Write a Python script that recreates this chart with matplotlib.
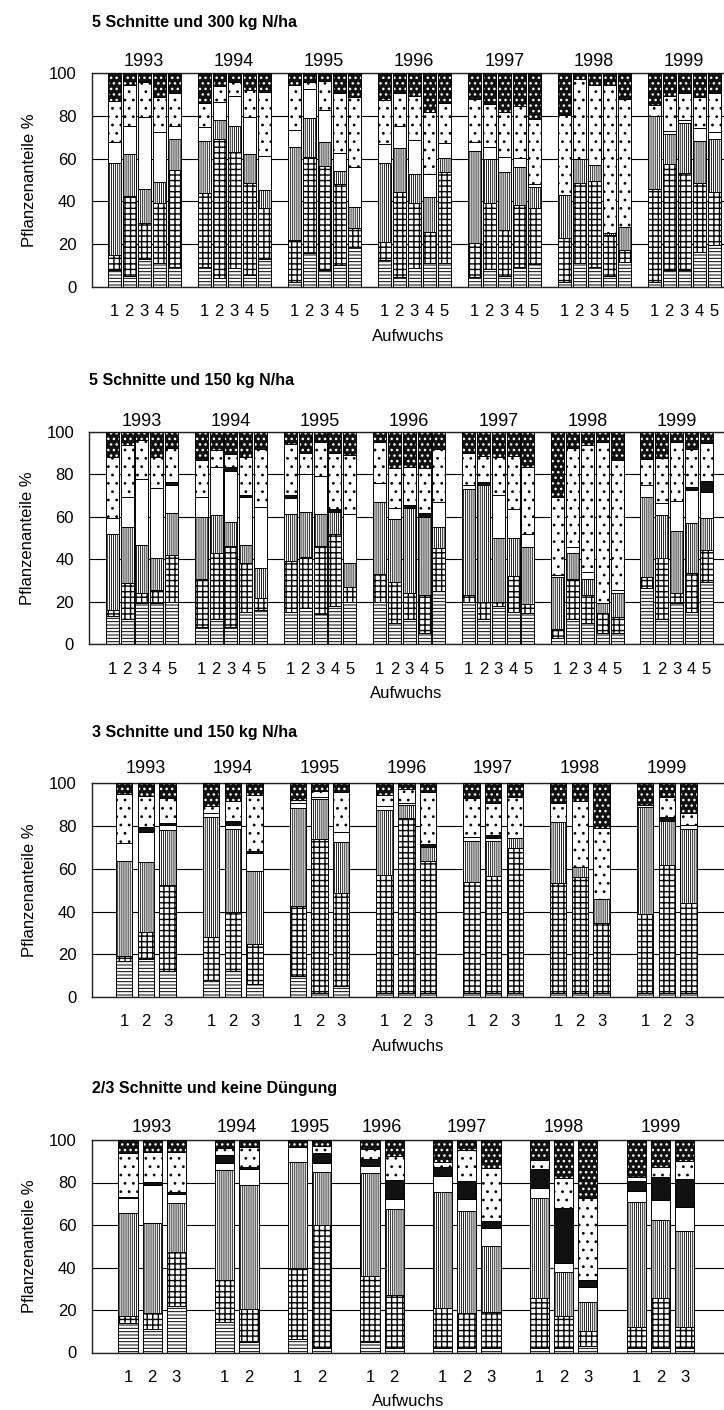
import numpy as np
import matplotlib
matplotlib.use("Agg")
import matplotlib.pyplot as plt

plt.rcParams['font.family'] = ['Liberation Sans', 'DejaVu Sans']
plt.rcParams['hatch.linewidth'] = 0.7

years = ["1993", "1994", "1995", "1996", "1997", "1998", "1999"]
ylabel = "Pflanzenanteile %"
xlabel = "Aufwuchs"

# ---------------- Panel 1: 5 Schnitte und 300 kg N/ha ----------------
p1_title = "5 Schnitte und 300 kg N/ha"
p1_cuts = [5, 5, 5, 5, 5, 5, 5]
p1_horiz = [8, 5, 13, 11, 9.4,   9, 4, 8.6, 5.5, 13,   2, 15.6, 7.8, 10.2, 18.7,
            12.5, 4.7, 8.6, 11.3, 11,   4.7, 8.1, 5, 9.4, 10.6,   2.3, 11, 9.4, 5, 11.7,
            2, 8, 7.8, 16.4, 19.5]
p1_grid = [7, 37.5, 16.7, 28, 45.3,   34.8, 65, 54.7, 43, 23.7,   20, 45, 48.8, 37.9, 9,
           8.6, 39.8, 30.8, 14.5, 42.9,   15.6, 31, 21.6, 28.9, 26.1,   20.4, 37.8, 40.3, 19.2, 5.5,
           43.6, 49.5, 45.6, 32, 24.7]
p1_vert = [43, 19.5, 16.3, 10, 14.3,   24.5, 9.2, 12, 13.6, 8.6,   43.4, 18.3, 11.4, 6.3, 9.8,
           36.7, 20.3, 13.3, 16.4, 6.3,   43.5, 20.7, 27.3, 18, 10.2,   20.3, 10.9, 7.3, 1.1, 10.6,
           34.4, 14.1, 23.2, 19.9, 24.8]
p1_white = [10, 13.3, 33.7, 23.7, 6.3,   6.4, 8.4, 14.1, 17.2, 16,   8.1, 13.6, 14.8, 8.1, 18.5,
            9.1, 10.5, 16.1, 10.6, 7.3,   4.2, 5.6, 7.1, 3.9, 1,   0, 0, 0, 0, 0,
            0, 1.5, 1.5, 5.9, 3.7]
p1_black = [0] * 35
p1_dotted = [19, 19, 16, 16, 15.3,   11.6, 7.4, 6.6, 13, 29.8,   21, 3.5, 13.8, 28.5, 33,
             20.6, 15.3, 20.6, 29.2, 18.8,   19.8, 20.3, 21, 24.5, 30.5,   37.5, 37.5, 37.5, 69.2, 60,
             5.2, 16.3, 12.5, 14.8, 17.9]
p1_top = [13, 5.7, 4.3, 11.3, 9.4,   13.7, 6, 4, 7.7, 8.9,   5.5, 4, 3.4, 9, 11,
          12.5, 9.4, 10.6, 18, 13.7,   12.2, 14.3, 18, 15.3, 21.6,   19.5, 2.8, 5.5, 5.5, 12.2,
          14.8, 10.6, 9.4, 11, 9.4]

# ---------------- Panel 2: 5 Schnitte und 150 kg N/ha ----------------
p2_title = "5 Schnitte und 150 kg N/ha"
p2_cuts = [5, 5, 5, 5, 5, 5, 5]
p2_horiz = [13, 12, 19.2, 19.5, 19.9,   8, 12, 8, 15, 16,   15, 17, 14, 18, 20,
            20, 10, 12, 5, 25,   20, 12, 18, 15, 14.4,   3, 12, 10, 5, 5,
            26.2, 12, 19.2, 15, 29]
p2_grid = [3, 16.6, 5, 5.9, 22,   22.5, 31, 38.2, 23.3, 5.5,   24, 24, 32, 34, 7,
           13, 19, 12, 18, 20,   3, 8, 2, 17, 4.4,   4, 18.5, 13.1, 9.4, 7.9,
           5.5, 28.3, 5, 18.3, 15.3]
p2_vert = [35.8, 26.7, 22.4, 14.9, 20,   29.5, 17.8, 11.4, 8.3, 14.1,   22, 21, 15, 10, 11,
           34, 30, 40, 37, 10,   50, 55, 30, 17.8, 27,   24.5, 12.5, 7.4, 4.8, 11,
           37.4, 20.5, 29.2, 23.5, 14.9]
p2_white = [7.4, 14.1, 31.1, 33, 13,   9.4, 22.4, 24, 22.8, 28.8,   8, 18, 18, 0, 23,
            9, 5, 0, 0, 12,   2, 0, 20, 13.6, 5.8,   1, 2.8, 3.6, 0, 1.5,
            5.8, 5.4, 14.1, 15.7, 12.5]
p2_black = [0, 0, 0, 0, 1.6,   0, 0, 1.6, 0.8, 0,   1, 0, 0, 1.5, 0,
            0, 0, 1.5, 1.5, 0,   0, 1.5, 0, 0, 0,   0, 0, 0, 0, 0,
            0, 0, 0, 1.6, 5.2]
p2_dotted = [29, 24.3, 18.3, 14.6, 15.7,   17.3, 8.2, 6.3, 17.7, 27.3,   24, 10, 16, 26.5, 28,
             19, 19, 18, 21.5, 25,   15, 12, 18, 25.1, 31.9,   36.9, 46.4, 59.6, 76.1, 61.3,
             12.2, 21.6, 27.8, 17.7, 17.6]
p2_top = [11.8, 6.3, 4, 12.1, 7.8,   13.3, 8.6, 10.5, 12.1, 8.3,   6, 10, 5, 10, 11,
          5, 17, 16.5, 17, 8,   10, 11.5, 12, 11.5, 16.5,   30.6, 7.8, 6.3, 4.7, 13.3,
          12.9, 12.2, 4.7, 8.2, 5.5]

# ---------------- Panel 3: 3 Schnitte und 150 kg N/ha ----------------
p3_title = "3 Schnitte und 150 kg N/ha"
p3_cuts = [3, 3, 3, 3, 3, 3, 3]
p3_horiz = [17, 18, 12,   8, 12, 6,   10, 2, 5,   2, 2, 2,   2, 2, 2,   2, 2, 2,   2, 2, 2]
p3_grid = [2.2, 12.3, 40.4,   20.2, 27.9, 18.8,   32.6, 71.8, 43.5,   55.1, 81.6, 61.8,
           52, 54.6, 67.6,   51.5, 54.3, 32.5,   36.7, 59.8, 41.8]
p3_vert = [44.6, 33, 25.8,   55.9, 38.6, 34.2,   45.7, 18.7, 24.2,   30.4, 6.3, 6.2,
           19, 16.4, 4.7,   28.6, 4.7, 11.2,   50.3, 20.7, 34.7]
p3_white = [8.1, 13.8, 2.3,   2.1, 2, 8.2,   2.4, 1.3, 4.7,   2.1, 1.1, 0,
            2, 1.6, 0,   0, 0, 0,   0.9, 0, 2]
p3_black = [0, 2.6, 1.1,   0, 2, 1.1,   0, 0, 0,   0, 0, 1.6,
            0, 1.2, 0,   0, 0, 0,   0, 1.6, 0]
p3_dotted = [23.1, 14.4, 11.4,   3.4, 9.2, 26.2,   1.5, 2.8, 18.7,   4.9, 6.2, 24.5,
             18, 14.8, 19.1,   8.5, 30.7, 33.2,   0, 9.3, 5.8]
p3_top = [5, 5.9, 7,   10.4, 8.3, 5.5,   7.8, 3.4, 3.9,   5.5, 2.8, 3.9,
          7, 9.4, 6.6,   9.4, 8.3, 21.1,   10.1, 6.6, 13.7]

# ---------------- Panel 4: 2/3 Schnitte und keine Düngung ----------------
p4_title = "2/3 Schnitte und keine Düngung"
p4_cuts = [3, 2, 2, 2, 3, 3, 3]
p4_horiz = [13.7, 10.9, 22,   14.5, 5.1,   6.2, 1.9,   5.1, 2,   2, 2, 2,   2, 2, 3,   2, 2, 2]
p4_grid = [3.5, 7.5, 25.5,   19.6, 15.2,   33.4, 58.1,   30.9, 25.1,   18.8, 16.4, 17.2,
           23.5, 15, 7,   10, 23.5, 10]
p4_vert = [48.6, 42.7, 22.7,   51.8, 58.5,   50.2, 25.1,   48.3, 40.3,   54.9, 48.3, 30.9,
           47, 21, 13.9,   59, 36.9, 45.3]
p4_white = [6.7, 17.7, 4.4,   3.4, 7.7,   6.7, 4.2,   3.5, 4.7,   7.4, 5.4, 8.3,
            5.1, 4, 7.1,   5.2, 9.4, 11]
p4_black = [0.8, 1.6, 1.1,   3.6, 1,   0, 4.7,   3.1, 9.1,   4, 8.8, 3.5,
            8.8, 25.8, 3.1,   4.7, 10.6, 13.2]
p4_dotted = [20.8, 14.1, 18.8,   3.2, 9,   0, 3.2,   4.7, 11.3,   2.7, 14.4, 24.8,
             4.2, 14.5, 38.4,   1.5, 5.1, 8.8]
p4_top = [5.9, 5.5, 5.5,   3.9, 3.5,   3.5, 2.8,   4.4, 7.5,   10.2, 4.7, 13.3,
          9.4, 17.7, 27.5,   17.6, 12.5, 9.7]

# ---------------- styling ----------------
KEYS = ["horiz", "grid", "vert", "white", "black", "dotted", "top"]
STYLE = {
    "horiz":  dict(fc="white", ec="black", hatch="-----", hlw=0.7),
    "grid":   dict(fc="white", ec="black", hatch="+++", hlw=1.0),
    "vert":   dict(fc="white", ec="black", hatch="||||||||", hlw=0.6),
    "white":  dict(fc="white", ec="black", hatch=None, hlw=0.7),
    "black":  dict(fc="#111111", ec="black", hatch=None, hlw=0.7),
    "dotted": dict(fc="white", ec="black", hatch="..", hlw=0.8),
    "top":    dict(fc="#111111", ec="white", hatch="...", hlw=1.0),
}

W, H = 724, 1410
DPI = 100
fig = plt.figure(figsize=(W / DPI, H / DPI), dpi=DPI)


def px2pt(px):
    return px * 72.0 / DPI


def add_axes(left_px, top_px, bottom_px):
    return fig.add_axes([left_px / W, 1 - bottom_px / H, 1 - left_px / W,
                         (bottom_px - top_px) / H])


def draw_panel(ax, title, cuts, comps, width, xlim, year_off_px=7.5):
    pos, labels, centers = [], [], []
    x = 0
    for n in cuts:
        grp = [x + j for j in range(n)]
        pos += grp
        labels += [str(j + 1) for j in range(n)]
        centers.append(np.mean(grp))
        x += n + 1
    pos = np.array(pos, dtype=float)
    bottom = np.zeros(len(pos))
    for key, vals in zip(KEYS, comps):
        vals = np.asarray(vals, dtype=float)
        st = STYLE[key]
        with plt.rc_context({"hatch.linewidth": st["hlw"]}):
            if key == "top":
                bars = ax.bar(pos, vals, width, bottom=bottom, color=st["fc"],
                              edgecolor=st["ec"], hatch=st["hatch"], linewidth=0,
                              zorder=2)
                ax.bar(pos, vals, width, bottom=bottom, fill=False,
                       edgecolor="black", linewidth=0.7, zorder=3)
            else:
                bars = ax.bar(pos, vals, width, bottom=bottom, color=st["fc"],
                              edgecolor=st["ec"], hatch=st["hatch"], linewidth=0.7,
                              zorder=2)
            for p in bars:
                if hasattr(p, "set_hatch_linewidth"):
                    p.set_hatch_linewidth(st["hlw"])
        bottom += vals

    ax.set_xlim(*xlim)
    ax.set_ylim(0, 100)
    ax.set_yticks([0, 20, 40, 60, 80, 100])
    ax.set_xticks(pos)
    ax.set_xticklabels(labels, fontsize=12)
    ax.tick_params(axis="x", length=0, pad=12.6)
    ax.tick_params(axis="y", length=0, pad=11, labelsize=12)
    ax.yaxis.grid(True, color="black", linewidth=0.8)
    ax.set_axisbelow(True)
    for s in ["left", "top", "bottom"]:
        ax.spines[s].set_linewidth(1.0)
        ax.spines[s].set_color("#222222")
    ax.spines["right"].set_visible(False)

    for c, y in zip(centers, years):
        ax.annotate(y, xy=(c, 1), xycoords=("data", "axes fraction"),
                    xytext=(0, px2pt(year_off_px)), textcoords="offset points",
                    ha="center", va="baseline", fontsize=13)
    ax.annotate(title, xy=(0, 1), xycoords="axes fraction",
                xytext=(0, px2pt(46.5)), textcoords="offset points",
                ha="left", va="baseline", fontsize=11.5, fontweight="bold")
    ax.annotate(xlabel, xy=(0.5, 0), xycoords="axes fraction",
                xytext=(0, -px2pt(54)), textcoords="offset points",
                ha="center", va="baseline", fontsize=12)
    ax.annotate(ylabel, xy=(0, 0.5), xycoords="axes fraction",
                xytext=(-px2pt(62), 0), textcoords="offset points",
                ha="center", va="center", rotation=90, fontsize=12)


ax1 = add_axes(91.7, 73.3, 286.7)
draw_panel(ax1, p1_title, p1_cuts,
           [p1_horiz, p1_grid, p1_vert, p1_white, p1_black, p1_dotted, p1_top],
           0.89, (-1.5, -1.5 + (W - 91.7) / 15.0))

ax2 = add_axes(89.3, 431.7, 644.0)
draw_panel(ax2, p2_title, p2_cuts,
           [p2_horiz, p2_grid, p2_vert, p2_white, p2_black, p2_dotted, p2_top],
           0.875, (-1.54, -1.54 + (W - 89.3) / 14.85), year_off_px=6)

ax3 = add_axes(91.7, 783.3, 997.0)
draw_panel(ax3, p3_title, p3_cuts,
           [p3_horiz, p3_grid, p3_vert, p3_white, p3_black, p3_dotted, p3_top],
           0.76, (-1.5, -1.5 + (W - 91.7) / 21.7), year_off_px=10)

ax4 = add_axes(91.7, 1140.0, 1352.5)
draw_panel(ax4, p4_title, p4_cuts,
           [p4_horiz, p4_grid, p4_vert, p4_white, p4_black, p4_dotted, p4_top],
           0.79, (-1.5, -1.5 + (W - 91.7) / 24.2), year_off_px=8.3)

fig.savefig("out.png", dpi=DPI)
